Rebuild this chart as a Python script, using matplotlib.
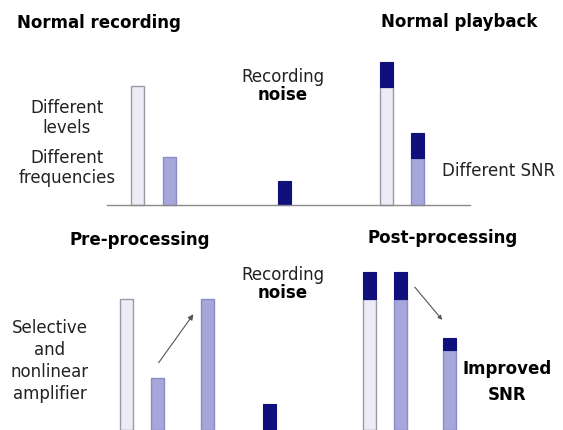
import matplotlib
matplotlib.use("Agg")
import matplotlib.pyplot as plt

# signal levels / noise levels (arbitrary units)
top_pos = [137.5, 169.5, 284.5, 386, 417.5]
top_signal = [119, 48, 0, 118, 47]
top_noise = [0, 0, 24, 25, 25]
top_kind = ["light", "mid", "mid", "light", "mid"]

bot_pos = [126.5, 157, 207, 269, 369.5, 400, 449]
bot_signal = [131, 52, 131, 0, 131, 131, 80]
bot_noise = [0, 0, 0, 26, 27, 27, 12]
bot_kind = ["light", "mid", "mid", "mid", "light", "mid", "mid"]

W, H = 563, 430
TOP_BASE = H - 205
BOT_BASE = 0

LIGHT = "#ececf6"
MID = "#a6a6da"
NAVY = "#10107c"
EDGE = "#9a9aa6"

fig = plt.figure(figsize=(W / 100, H / 100), dpi=100)
ax = fig.add_axes([0, 0, 1, 1])
ax.set_xlim(0, W)
ax.set_ylim(0, H)
ax.axis("off")


def draw_row(pos, signal, noise, kind, base):
    for x, s, n, k in zip(pos, signal, noise, kind):
        if s > 0:
            fc = LIGHT if k == "light" else MID
            ec = EDGE if k == "light" else "#8c8cc8"
            ax.bar(x, s, width=13, bottom=base, color=fc, edgecolor=ec, linewidth=1)
        if n > 0:
            ax.bar(x, n, width=13, bottom=base + s, color=NAVY, edgecolor=NAVY, linewidth=0.8)


draw_row(top_pos, top_signal, top_noise, top_kind, TOP_BASE)
draw_row(bot_pos, bot_signal, bot_noise, bot_kind, BOT_BASE)

# baseline of top row
ax.plot([107, 470], [TOP_BASE, TOP_BASE], color="#8a8a8a", lw=1)

fs = 12
ax.text(17, H - 23, "Normal recording", fontsize=fs, fontweight="bold", va="center", ha="left")
ax.text(459, H - 22, "Normal playback", fontsize=fs, fontweight="bold", va="center", ha="center")
ax.text(140, H - 240, "Pre-processing", fontsize=fs, fontweight="bold", va="center", ha="center")
ax.text(443, H - 238, "Post-processing", fontsize=fs, fontweight="bold", va="center", ha="center")

for yr in (0, 198):
    ax.text(283, H - 77 - yr, "Recording", fontsize=fs, va="center", ha="center", color="#222222")
    ax.text(283, H - 95 - yr, "noise", fontsize=fs, fontweight="bold", va="center", ha="center")

ax.text(67, H - 118, "Different\nlevels", fontsize=fs, va="center", ha="center",
        linespacing=1.2, color="#222222")
ax.text(67, H - 168, "Different\nfrequencies", fontsize=fs, va="center", ha="center",
        linespacing=1.2, color="#222222")
ax.text(499, H - 171, "Different SNR", fontsize=fs, va="center", ha="center", color="#222222")
ax.text(50, H - 361, "Selective\nand\nnonlinear\namplifier", fontsize=fs, va="center",
        ha="center", linespacing=1.3, color="#222222")
ax.text(507, H - 382, "Improved\nSNR", fontsize=fs, fontweight="bold", va="center",
        ha="center", linespacing=1.6)

# arrows
ax.annotate("", xy=(195, H - 312), xytext=(157, H - 365),
            arrowprops=dict(arrowstyle="-|>", color="#555555", lw=0.8, mutation_scale=8))
ax.annotate("", xy=(444, H - 322), xytext=(413, H - 285),
            arrowprops=dict(arrowstyle="-|>", color="#555555", lw=0.8, mutation_scale=6))

fig.savefig("out.png", dpi=100)
